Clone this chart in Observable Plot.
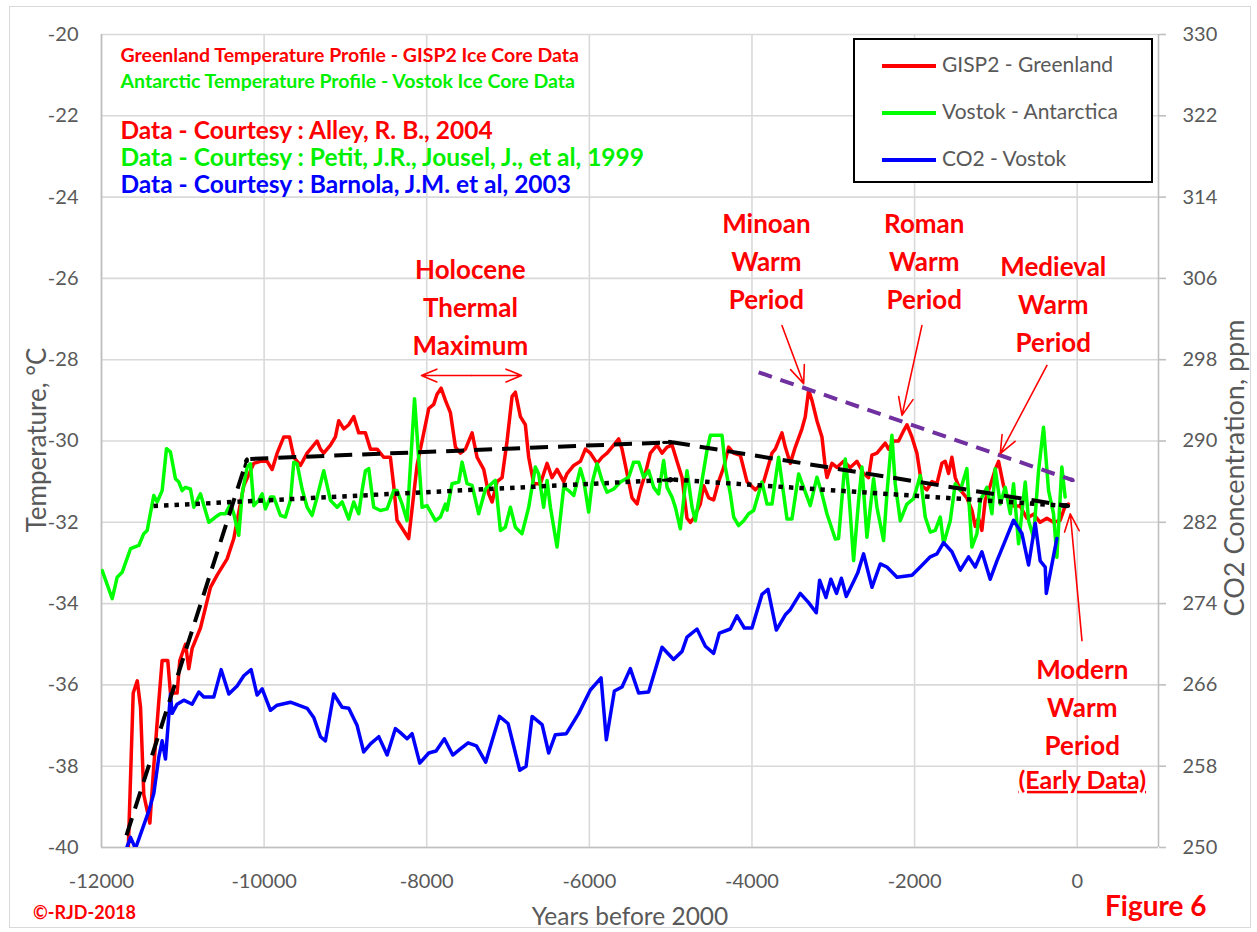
<!DOCTYPE html>
<html><head><meta charset="utf-8">
<script src="https://cdn.jsdelivr.net/npm/d3@7"></script>
<script src="https://cdn.jsdelivr.net/npm/@observablehq/plot@0.6"></script>
<style>
body{margin:0;background:#fff;font-family:Lato,"Open Sans",sans-serif;}
#wrap{position:relative;width:1257px;height:932px;overflow:hidden;}
#frame{position:absolute;left:9px;top:6px;width:1242px;height:922px;border:1px solid #d9d9d9;box-sizing:border-box;}
#chart{position:absolute;left:0;top:0;}
.ov{position:absolute;white-space:nowrap;}
#legend{position:absolute;left:853px;top:38px;width:300px;height:145px;border:2px solid #000;box-sizing:border-box;background:#fff;}
.li{position:absolute;left:27px;height:24px;width:260px;}
.li span.sw{position:absolute;left:0;top:10px;width:54px;height:4px;}
.li span.tx{position:absolute;left:60px;top:-3px;font-size:21px;color:#595959;white-space:nowrap;}
</style></head><body>
<div id="wrap"><div id="frame"></div><div id="chart"></div></div>
<script>
// ---------- data ----------
const xTicks = [-12000,-10000,-8000,-6000,-4000,-2000,0];
const tempTicks = [-40,-38,-36,-34,-32,-30,-28,-26,-24,-22,-20];
const co2Ticks = [250,258,266,274,282,290,298,306,314,322,330];

// GISP2 Greenland temperature [year, °C]
const gisp2 = [[-11670,-40.0],[-11610,-36.2],[-11560,-35.9],[-11520,-36.55],[-11480,-38.7],[-11405,-39.4],[-11357,-38.0],[-11295,-36.4],[-11254,-35.4],[-11185,-35.4],[-11152,-36.2],[-11070,-36.2],[-11037,-35.4],[-10967,-35.0],[-10926,-35.6],[-10885,-35.1],[-10783,-34.6],[-10660,-33.6],[-10578,-33.3],[-10455,-32.9],[-10373,-32.4],[-10250,-31.1],[-10127,-30.55],[-10045,-30.5],[-9963,-30.5],[-9901,-30.7],[-9840,-30.3],[-9758,-29.9],[-9688,-29.9],[-9635,-30.4],[-9553,-30.6],[-9471,-30.3],[-9349,-30.0],[-9307,-30.2],[-9267,-30.3],[-9184,-30.1],[-9123,-29.9],[-9082,-29.5],[-9020,-29.7],[-8959,-29.6],[-8898,-29.4],[-8836,-29.8],[-8754,-29.8],[-8692,-30.2],[-8610,-30.2],[-8529,-30.4],[-8447,-30.4],[-8406,-31.1],[-8365,-31.95],[-8222,-32.4],[-8119,-30.6],[-7975,-29.2],[-7914,-29.1],[-7873,-28.85],[-7823,-28.7],[-7770,-29.0],[-7709,-29.3],[-7647,-30.15],[-7586,-30.3],[-7524,-30.2],[-7442,-29.8],[-7381,-30.4],[-7299,-30.7],[-7238,-31.3],[-7196,-31.5],[-7135,-31.0],[-7073,-30.9],[-7012,-30.0],[-6950,-28.9],[-6910,-28.8],[-6848,-29.4],[-6787,-29.6],[-6746,-30.4],[-6684,-31.05],[-6602,-31.05],[-6520,-30.55],[-6459,-30.9],[-6397,-30.7],[-6315,-31.0],[-6274,-30.8],[-6192,-30.6],[-6110,-30.5],[-6049,-30.2],[-5987,-30.3],[-5905,-30.55],[-5844,-30.4],[-5782,-30.3],[-5700,-30.1],[-5639,-29.95],[-5598,-30.2],[-5536,-30.8],[-5475,-31.4],[-5413,-31.55],[-5372,-31.2],[-5311,-30.8],[-5250,-30.3],[-5167,-30.1],[-5106,-30.3],[-5044,-30.15],[-4983,-30.1],[-4922,-30.5],[-4860,-30.9],[-4799,-31.9],[-4758,-32.0],[-4717,-31.9],[-4635,-31.55],[-4594,-31.1],[-4532,-31.4],[-4471,-31.45],[-4410,-31.0],[-4348,-30.65],[-4287,-30.15],[-4225,-30.3],[-4143,-30.35],[-4061,-31.0],[-3959,-31.2],[-3856,-31.0],[-3754,-30.3],[-3713,-30.2],[-3631,-29.8],[-3590,-30.15],[-3529,-30.55],[-3467,-30.15],[-3385,-29.7],[-3344,-29.4],[-3303,-28.75],[-3262,-29.0],[-3201,-29.5],[-3139,-29.9],[-3098,-30.65],[-3078,-30.9],[-3016,-30.55],[-2955,-30.65],[-2873,-30.5],[-2791,-30.65],[-2709,-30.5],[-2627,-30.8],[-2566,-30.9],[-2525,-30.35],[-2463,-30.3],[-2422,-30.2],[-2361,-30.05],[-2320,-30.2],[-2258,-30.0],[-2197,-30.0],[-2135,-29.75],[-2094,-29.6],[-2033,-29.9],[-1971,-30.3],[-1910,-31.1],[-1848,-31.2],[-1787,-31.0],[-1725,-31.05],[-1664,-30.55],[-1623,-30.5],[-1582,-30.8],[-1541,-30.4],[-1500,-30.9],[-1439,-31.2],[-1357,-31.4],[-1295,-31.7],[-1254,-32.1],[-1213,-31.9],[-1172,-32.2],[-1131,-31.45],[-1070,-31.1],[-1008,-30.7],[-967,-30.5],[-906,-31.1],[-844,-31.45],[-783,-31.6],[-701,-31.6],[-619,-31.9],[-537,-31.8],[-455,-32.0],[-373,-31.9],[-291,-32.0],[-209,-31.95],[-148,-31.6],[-107,-31.55]];

// Vostok Antarctica temperature [year, °C]
const vostok = [[-11991,-33.19],[-11868,-33.88],[-11807,-33.35],[-11746,-33.23],[-11643,-32.65],[-11541,-32.57],[-11480,-32.28],[-11438,-32.2],[-11357,-31.34],[-11315,-31.5],[-11254,-31.22],[-11201,-30.19],[-11152,-30.27],[-11090,-30.93],[-11049,-31.01],[-11008,-31.22],[-10967,-31.14],[-10906,-31.18],[-10865,-31.63],[-10783,-31.3],[-10680,-32.0],[-10598,-31.87],[-10537,-31.79],[-10475,-31.79],[-10414,-31.55],[-10373,-31.79],[-10312,-32.32],[-10270,-31.3],[-10209,-30.64],[-10168,-30.56],[-10127,-31.59],[-10066,-31.46],[-10024,-31.3],[-9984,-31.67],[-9922,-31.38],[-9881,-31.38],[-9799,-31.83],[-9738,-31.87],[-9676,-31.46],[-9635,-30.52],[-9594,-30.56],[-9533,-31.18],[-9471,-31.63],[-9410,-31.83],[-9348,-31.38],[-9267,-30.73],[-9184,-31.46],[-9102,-31.63],[-9041,-31.5],[-8959,-31.92],[-8898,-31.5],[-8836,-31.79],[-8795,-31.22],[-8754,-30.73],[-8713,-30.68],[-8652,-31.63],[-8570,-31.71],[-8487,-31.67],[-8406,-31.22],[-8365,-31.22],[-8303,-31.55],[-8242,-31.96],[-8150,-28.96],[-8057,-31.63],[-7996,-31.59],[-7893,-31.96],[-7832,-31.87],[-7770,-31.55],[-7750,-31.7],[-7688,-31.05],[-7606,-31.01],[-7565,-30.52],[-7504,-31.05],[-7442,-31.09],[-7361,-31.79],[-7278,-31.18],[-7156,-30.97],[-7094,-32.2],[-7033,-32.12],[-6971,-31.63],[-6910,-32.12],[-6828,-32.28],[-6746,-31.63],[-6664,-30.64],[-6623,-30.81],[-6562,-31.63],[-6520,-30.97],[-6479,-31.63],[-6397,-32.61],[-6315,-31.14],[-6254,-31.22],[-6192,-31.34],[-6110,-30.68],[-6069,-30.97],[-6008,-31.75],[-5967,-31.05],[-5905,-30.56],[-5844,-30.97],[-5782,-31.26],[-5700,-31.18],[-5618,-31.01],[-5516,-30.89],[-5455,-30.52],[-5393,-30.52],[-5332,-30.89],[-5270,-30.73],[-5209,-31.14],[-5148,-31.3],[-5086,-30.48],[-5044,-31.14],[-4983,-31.38],[-4942,-31.63],[-4881,-32.16],[-4799,-30.73],[-4737,-31.63],[-4696,-31.96],[-4614,-30.97],[-4553,-30.23],[-4512,-29.86],[-4368,-29.86],[-4328,-30.64],[-4266,-31.3],[-4225,-31.87],[-4164,-32.08],[-4102,-31.96],[-4041,-31.79],[-3979,-31.71],[-3877,-31.01],[-3815,-31.55],[-3754,-31.55],[-3672,-30.4],[-3569,-31.92],[-3508,-31.92],[-3426,-30.81],[-3365,-31.14],[-3283,-31.59],[-3201,-30.89],[-3139,-31.3],[-3078,-31.79],[-2975,-32.41],[-2935,-32.4],[-2852,-30.44],[-2811,-31.22],[-2750,-32.94],[-2688,-31.46],[-2647,-30.64],[-2586,-32.37],[-2504,-30.93],[-2463,-31.63],[-2381,-32.45],[-2340,-31.3],[-2279,-29.86],[-2238,-31.05],[-2176,-31.96],[-2094,-31.55],[-2012,-31.42],[-1930,-30.85],[-1869,-31.87],[-1807,-32.24],[-1746,-32.2],[-1684,-31.87],[-1643,-32.53],[-1561,-31.96],[-1500,-31.05],[-1438,-31.22],[-1357,-30.68],[-1295,-32.61],[-1233,-32.28],[-1192,-31.46],[-1110,-31.14],[-1049,-31.79],[-1008,-30.68],[-946,-31.55],[-885,-31.14],[-823,-31.79],[-783,-31.05],[-721,-32.53],[-639,-31.01],[-598,-31.96],[-537,-32.37],[-475,-30.73],[-414,-29.66],[-352,-31.22],[-291,-31.79],[-250,-32.86],[-189,-30.64],[-148,-31.38]];

// Vostok CO2 [year, ppm]
const co2 = [[-11693,249.9],[-11643,251.0],[-11582,249.9],[-11418,253.6],[-11357,255.3],[-11295,258.9],[-11254,260.5],[-11213,258.7],[-11152,265.1],[-11131,263.2],[-11070,264.1],[-10988,264.5],[-10885,264.1],[-10803,265.3],[-10742,264.8],[-10619,264.8],[-10528,267.5],[-10434,265.1],[-10332,265.9],[-10250,266.9],[-10160,267.5],[-10086,265.0],[-10024,265.6],[-9922,263.5],[-9840,264.0],[-9676,264.3],[-9471,263.7],[-9390,262.8],[-9307,260.9],[-9246,260.5],[-9144,265.1],[-9041,263.8],[-8959,263.7],[-8856,262.0],[-8775,259.4],[-8692,260.2],[-8590,260.9],[-8487,259.1],[-8385,261.7],[-8324,261.3],[-8242,260.7],[-8180,261.2],[-8086,258.3],[-7975,259.3],[-7885,259.5],[-7783,260.7],[-7680,259.1],[-7586,259.7],[-7491,260.3],[-7389,260.0],[-7275,258.4],[-7196,260.5],[-7106,262.9],[-7000,262.2],[-6856,257.6],[-6778,258.0],[-6704,262.9],[-6581,262.1],[-6500,259.3],[-6418,261.1],[-6283,261.2],[-6131,263.2],[-5988,265.5],[-5856,266.7],[-5791,260.6],[-5692,265.4],[-5598,265.8],[-5496,267.6],[-5394,265.2],[-5271,265.3],[-5106,269.7],[-4964,268.5],[-4860,269.3],[-4799,270.7],[-4676,271.5],[-4573,269.8],[-4471,269.1],[-4401,271.1],[-4266,271.5],[-4184,272.8],[-4094,271.6],[-4000,271.6],[-3877,274.9],[-3803,275.4],[-3700,271.4],[-3590,272.9],[-3529,273.4],[-3406,275.0],[-3303,274.1],[-3209,273.1],[-3168,276.3],[-3090,274.6],[-3030,276.4],[-2960,275.0],[-2900,276.5],[-2840,274.7],[-2760,276.0],[-2700,277.0],[-2627,278.9],[-2524,275.6],[-2422,277.9],[-2340,277.6],[-2216,276.6],[-2032,276.8],[-1930,277.6],[-1807,278.6],[-1725,278.9],[-1643,280.0],[-1541,279.1],[-1438,277.3],[-1336,278.6],[-1254,277.6],[-1172,279.1],[-1070,276.4],[-987,278.2],[-885,280.2],[-783,282.2],[-680,280.9],[-598,277.8],[-516,281.9],[-455,278.2],[-393,277.6],[-380,275.0],[-250,280.4]];

// trend arrows [x1, y1, x2, y2] in (year, °C)
const dashedTrend = [[-11693,-39.7,-10209,-30.44],[-10170,-30.44,-4983,-30.03],[-4983,-30.03,-107,-31.6]];
const dottedTrend = [[-11360,-31.6,-4963,-30.95],[-4963,-30.95,-107,-31.6]];
const purpleTrend = [[-3918,-28.31,-47,-30.97]];
const calloutArrows = [[-3631,-27.16,-3364,-28.59],[-1910,-27.16,-2155,-29.37],[-372,-28.14,-946,-30.31],[59,-34.91,-85,-31.79]];
const holoceneSpan = [[-8065,-6835,-28.39]];

// annotation labels [year, °C, text]
const periodLabels = [[-7463,-26.64,"Holocene\nThermal\nMaximum"],[-3823,-25.51,"Minoan\nWarm\nPeriod"],[-1881,-25.51,"Roman\nWarm\nPeriod"],[-294,-26.57,"Medieval\nWarm\nPeriod"],[62,-36.48,"Modern\nWarm\nPeriod"]];
const earlyDataLabel = [[62,-38.36,"(Early Data)"]];
const sourceSmall = [[-11766,-20.52,"Greenland Temperature Profile - GISP2 Ice Core Data","#ff0000"],[-11766,-21.16,"Antarctic Temperature Profile - Vostok Ice Core Data","#00f000"]];
const sourceBig = [[-11766,-22.39,"Data - Courtesy : Alley, R. B., 2004","#ff0000"],[-11766,-23.05,"Data - Courtesy : Petit, J.R., Jousel, J., et al, 1999","#00f000"],[-11766,-23.71,"Data - Courtesy : Barnola, J.M. et al, 2003","#0000ff"]];

const legendItems = [["GISP2 - Greenland","#ff0000"],["Vostok - Antarctica","#00ff00"],["CO2 - Vostok","#0000ff"]];

// ---------- chart ----------
const co2ToTemp = c => -40 + (c - 250) / 4;
const tempToCo2 = t => 250 + (t + 40) * 4;
const FONT = "Lato, 'Open Sans', sans-serif";
const gridColor = "#d9d9d9", axisColor = "#bfbfbf", tickText = "#595959";

function headPieces(segs) {
  // short final piece of each segment so the head is drawn solid
  return segs.map(s => [s[2] - (s[2]-s[0])*0.02, s[3] - (s[3]-s[1])*0.02, s[2], s[3]]);
}

const chart = Plot.plot({
  width: 1257, height: 932,
  marginLeft: 101, marginRight: 99, marginTop: 34, marginBottom: 85,
  x: {domain: [-12000, 1000]},
  y: {domain: [-40, -20]},
  style: {fontFamily: FONT, background: "transparent"},
  marks: [
    Plot.gridX(xTicks, {stroke: gridColor, strokeOpacity: 1, strokeWidth: 1.6}),
    Plot.gridY(tempTicks, {stroke: gridColor, strokeOpacity: 1, strokeWidth: 1.6}),
    Plot.ruleX([-12000, 1000], {stroke: axisColor, strokeWidth: 1.6}),
    Plot.ruleY([-40], {stroke: axisColor, strokeWidth: 1.6}),
    Plot.axisY(tempTicks, {anchor: "left", tickSize: 0, tickPadding: 23, fontSize: 20, color: tickText, tickFormat: d => String(d), label: null}),
    Plot.axisY(tempTicks, {anchor: "right", tickSize: 7, tickPadding: 17, fontSize: 20, color: tickText, stroke: axisColor, strokeWidth: 1.6, tickFormat: t => String(tempToCo2(t)), label: null}),
    Plot.axisX(xTicks, {anchor: "bottom", tickSize: 0, tickPadding: 26, fontSize: 20, color: tickText, tickFormat: d => String(d), label: null}),
    Plot.line(gisp2, {x: d => d[0], y: d => d[1], stroke: "#ff0000", strokeWidth: 3.5, strokeLinejoin: "round", clip: true}),
    Plot.line(vostok, {x: d => d[0], y: d => d[1], stroke: "#00ff00", strokeWidth: 3.5, strokeLinejoin: "round", clip: true}),
    Plot.line(co2, {x: d => d[0], y: d => co2ToTemp(d[1]), stroke: "#0000ff", strokeWidth: 3.5, strokeLinejoin: "round", clip: true}),
    // trend lines
    Plot.link(dashedTrend, {x1: d => d[0], y1: d => d[1], x2: d => d[2], y2: d => d[3], stroke: "#000", strokeWidth: 4, strokeDasharray: "18,10"}),
    Plot.arrow(headPieces(dashedTrend), {x1: d => d[0], y1: d => d[1], x2: d => d[2], y2: d => d[3], stroke: "#000", strokeWidth: 3, headLength: 22, headAngle: 40}),
    Plot.link(dottedTrend, {x1: d => d[0], y1: d => d[1], x2: d => d[2], y2: d => d[3], stroke: "#000", strokeWidth: 4.5, strokeDasharray: "4.5,6"}),
    Plot.arrow(headPieces(dottedTrend), {x1: d => d[0], y1: d => d[1], x2: d => d[2], y2: d => d[3], stroke: "#000", strokeWidth: 3, headLength: 22, headAngle: 40}),
    Plot.link(purpleTrend, {x1: d => d[0], y1: d => d[1], x2: d => d[2], y2: d => d[3], stroke: "#7030a0", strokeWidth: 4, strokeDasharray: "14,9"}),
    Plot.arrow(headPieces(purpleTrend), {x1: d => d[0], y1: d => d[1], x2: d => d[2], y2: d => d[3], stroke: "#7030a0", strokeWidth: 3, headLength: 22, headAngle: 40}),
    // red callouts
    Plot.arrow(calloutArrows, {x1: d => d[0], y1: d => d[1], x2: d => d[2], y2: d => d[3], stroke: "#ff0000", strokeWidth: 1.6, headLength: 18, headAngle: 45}),
    Plot.arrow(holoceneSpan, {x1: d => (d[0]+d[1])/2, y1: d => d[2], x2: d => d[1], y2: d => d[2], stroke: "#ff0000", strokeWidth: 1.6, headLength: 18, headAngle: 45}),
    Plot.arrow(holoceneSpan, {x1: d => (d[0]+d[1])/2, y1: d => d[2], x2: d => d[0], y2: d => d[2], stroke: "#ff0000", strokeWidth: 1.6, headLength: 18, headAngle: 45}),
    // labels
    Plot.text(periodLabels, {x: d => d[0], y: d => d[1], text: d => d[2], fill: "#ff0000", fontSize: 26, fontWeight: "bold", lineHeight: 1.46, textAnchor: "middle"}),
    Plot.text(earlyDataLabel, {x: d => d[0], y: d => d[1], text: d => d[2], fill: "#ff0000", fontSize: 25, fontWeight: "bold", textAnchor: "middle"}),
    Plot.text(sourceSmall, {x: d => d[0], y: d => d[1], text: d => d[2], fill: d => d[3], fontSize: 19.5, fontWeight: "bold", textAnchor: "start"}),
    Plot.text(sourceBig, {x: d => d[0], y: d => d[1], text: d => d[2], fill: d => d[3], fontSize: 24.5, fontWeight: "bold", textAnchor: "start"})
  ]
});
document.getElementById("chart").appendChild(chart);
d3.select(chart).selectAll("text").filter(function(){ return this.textContent === "(Early Data)"; }).attr("text-decoration", "underline");

// overlays: axis titles, legend, footer
const wrap = document.getElementById("wrap");
function ov(html, css) { const d = document.createElement("div"); d.className = "ov"; d.innerHTML = html; Object.assign(d.style, css); wrap.appendChild(d); return d; }
ov("Temperature, °C", {left: "36px", top: "440px", fontSize: "26px", color: tickText, transform: "translate(-50%,-50%) rotate(-90deg)"});
ov("CO2 Concentration, ppm", {left: "1233px", top: "468px", fontSize: "27px", color: tickText, transform: "translate(-50%,-50%) rotate(-90deg)"});
ov("Years before 2000", {left: "630px", top: "915px", fontSize: "24.5px", color: tickText, transform: "translate(-50%,-50%)"});
ov("©-RJD-2018", {left: "33px", top: "912px", fontSize: "18px", fontWeight: "bold", color: "#ff0000", transform: "translate(0,-50%)"});
ov("Figure 6", {left: "1105px", top: "905px", fontSize: "28px", fontWeight: "bold", color: "#ff0000", transform: "translate(0,-50%)"});

const lg = document.createElement("div"); lg.id = "legend"; wrap.appendChild(lg);
legendItems.forEach((it, i) => {
  const row = document.createElement("div"); row.className = "li";
  row.style.top = (14 + i * 47) + "px";
  row.innerHTML = `<span class="sw" style="background:${it[1]}"></span><span class="tx">${it[0]}</span>`;
  lg.appendChild(row);
});
</script>
</body></html>
